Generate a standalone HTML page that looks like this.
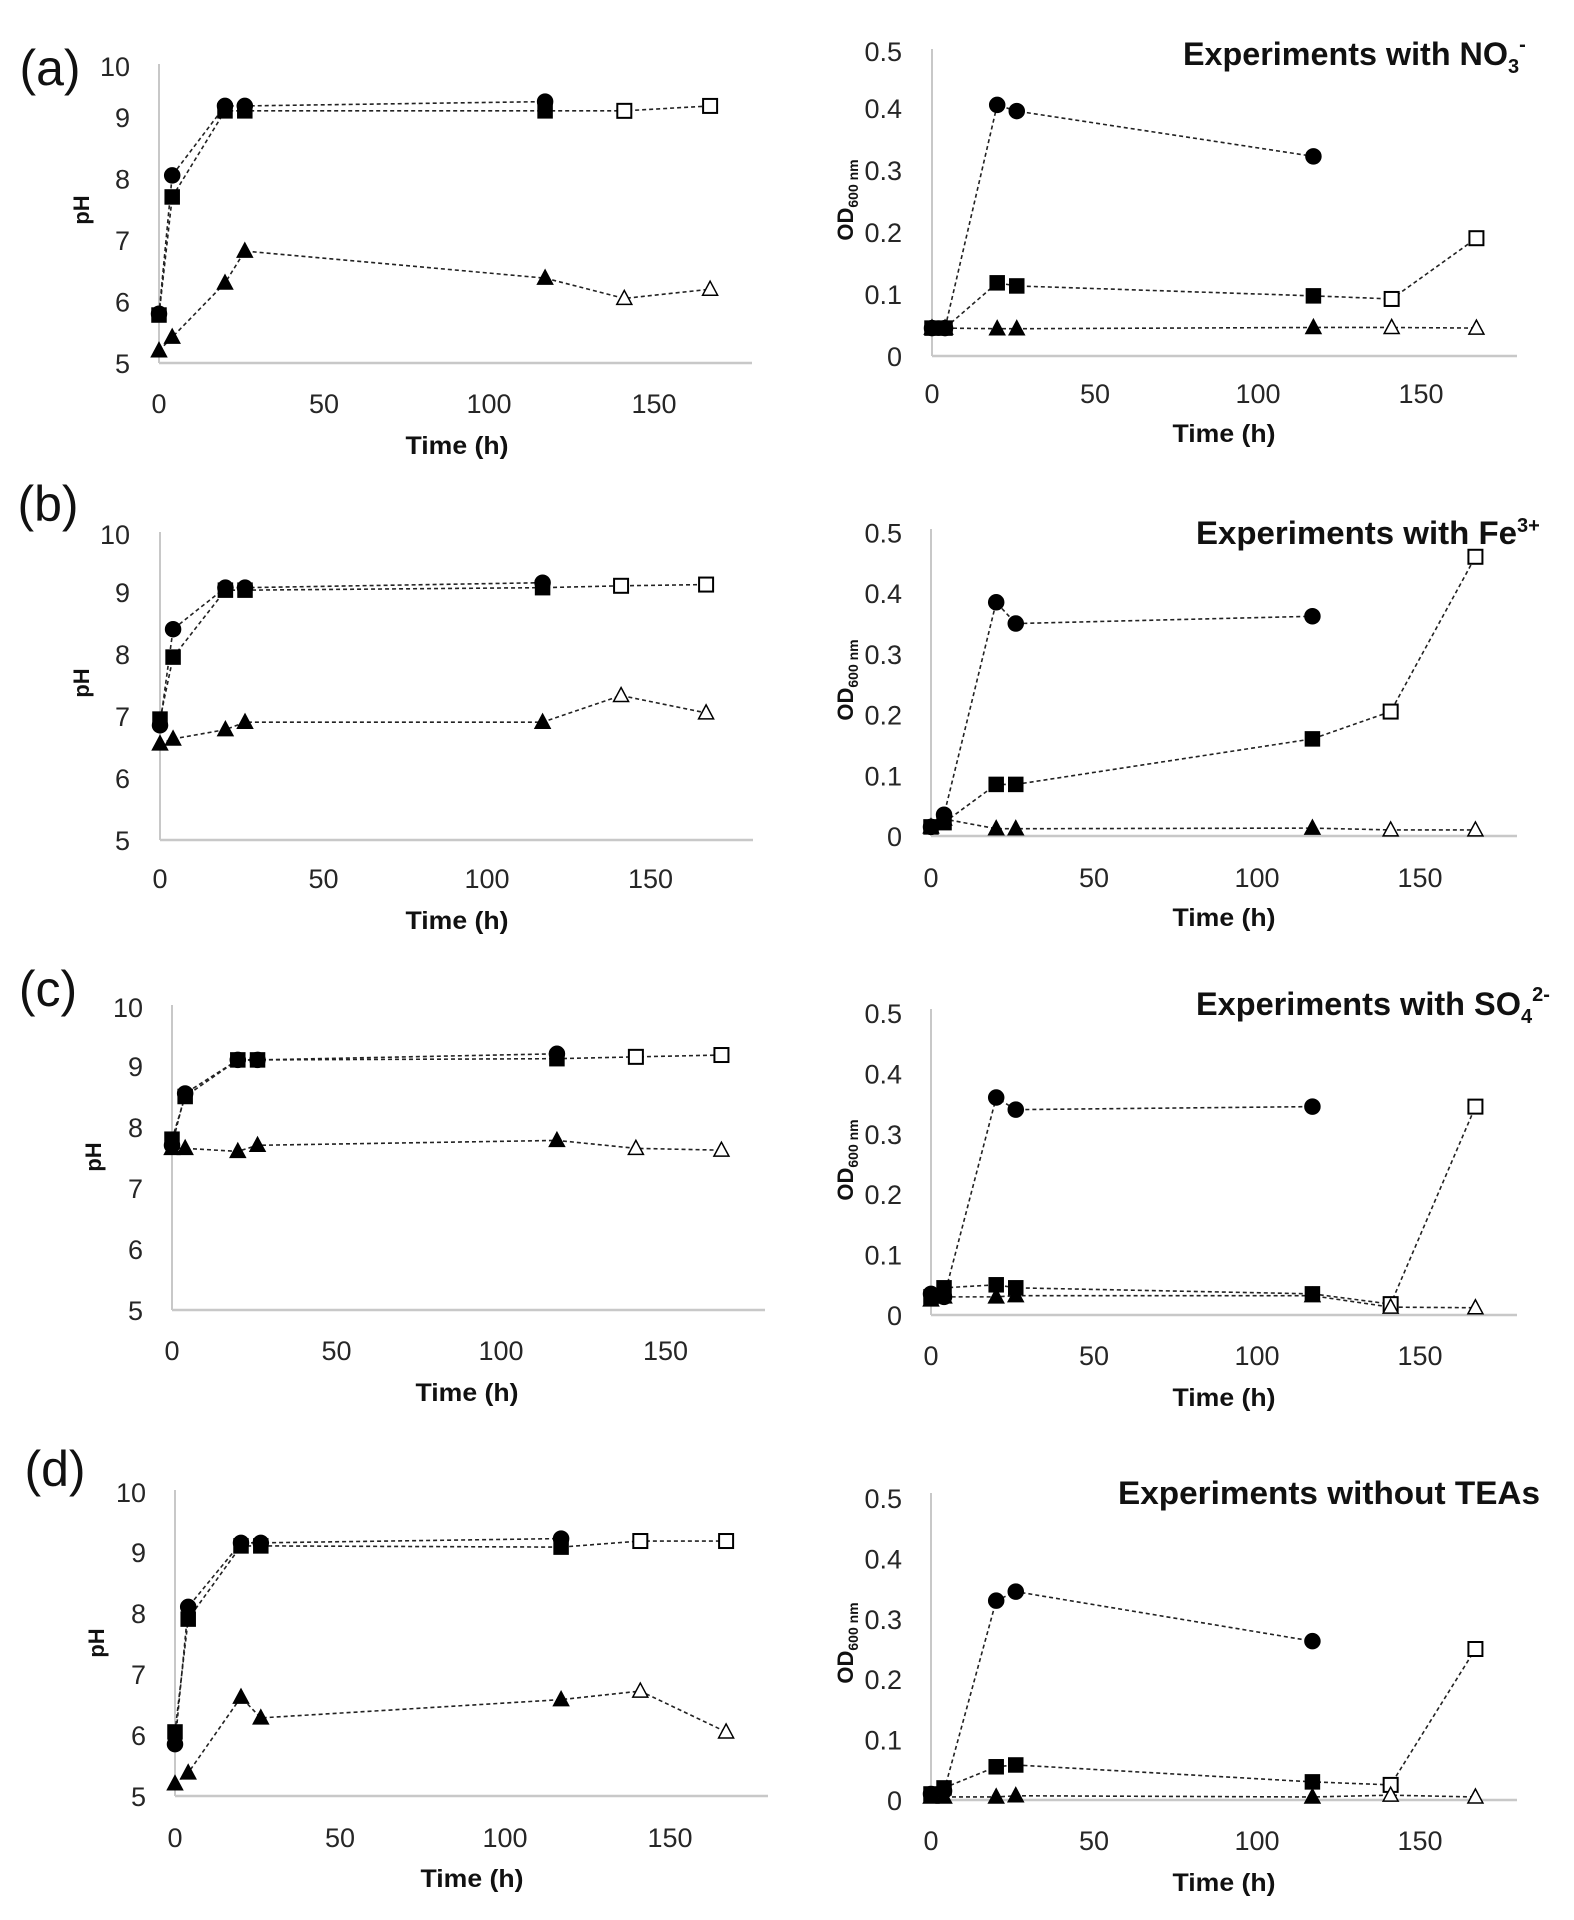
<!DOCTYPE html>
<html><head><meta charset="utf-8">
<style>
html,body{margin:0;padding:0;background:#fff;}
svg{display:block;font-family:"Liberation Sans",sans-serif;}
</style></head>
<body>
<svg id="fig" width="1574" height="1920" viewBox="0 0 1574 1920" xmlns="http://www.w3.org/2000/svg"></svg>
<script>
// ---- data ----
const times = [0, 4, 20, 26, 117, 141, 167];
const xTicks = [0, 50, 100, 150];
const phTicks = [5, 6, 7, 8, 9, 10];
const odTicks = [0, 0.1, 0.2, 0.3, 0.4, 0.5];
const odTickLabels = ["0", "0.1", "0.2", "0.3", "0.4", "0.5"];
const panelLetters = ["(a)", "(b)", "(c)", "(d)"];
const panelTitles = ["Experiments with NO", "Experiments with Fe", "Experiments with SO", "Experiments without TEAs"];

const phCircleA = [5.8, 8.05, 9.18, 9.18, 9.25];
const phSquareA = [5.78, 7.7, 9.1, 9.1, 9.1, 9.1, 9.18];
const phTriA = [5.2, 5.42, 6.3, 6.82, 6.38, 6.05, 6.2];
const odCircleA = [0.045, 0.045, 0.405, 0.395, 0.322];
const odSquareA = [0.045, 0.045, 0.118, 0.113, 0.097, 0.092, 0.19];
const odTriA = [0.045, 0.045, 0.044, 0.044, 0.046, 0.046, 0.045];

const phCircleB = [6.85, 8.4, 9.07, 9.07, 9.15];
const phSquareB = [6.95, 7.95, 9.03, 9.03, 9.07, 9.1, 9.12];
const phTriB = [6.55, 6.63, 6.78, 6.9, 6.9, 7.33, 7.05];
const odCircleB = [0.015, 0.035, 0.385, 0.35, 0.362];
const odSquareB = [0.015, 0.022, 0.085, 0.085, 0.16, 0.205, 0.46];
const odTriB = [0.015, 0.028, 0.012, 0.012, 0.013, 0.01, 0.01];

const phCircleC = [7.7, 8.55, 9.1, 9.1, 9.2];
const phSquareC = [7.8, 8.5, 9.1, 9.1, 9.12, 9.15, 9.18];
const phTriC = [7.65, 7.65, 7.6, 7.7, 7.78, 7.65, 7.62];
const odCircleC = [0.035, 0.03, 0.36, 0.34, 0.345];
const odSquareC = [0.03, 0.045, 0.05, 0.045, 0.035, 0.018, 0.345];
const odTriC = [0.025, 0.03, 0.03, 0.032, 0.032, 0.013, 0.012];

const phCircleD = [5.85, 8.1, 9.15, 9.15, 9.22];
const phSquareD = [6.05, 7.9, 9.1, 9.1, 9.08, 9.18, 9.18];
const phTriD = [5.2, 5.38, 6.62, 6.28, 6.58, 6.72, 6.05];
const odCircleD = [0.01, 0.015, 0.33, 0.345, 0.263];
const odSquareD = [0.01, 0.02, 0.055, 0.058, 0.03, 0.025, 0.25];
const odTriD = [0.005, 0.005, 0.005, 0.007, 0.005, 0.008, 0.005];

const phSets = [[phCircleA, phSquareA, phTriA], [phCircleB, phSquareB, phTriB], [phCircleC, phSquareC, phTriC], [phCircleD, phSquareD, phTriD]];
const odSets = [[odCircleA, odSquareA, odTriA], [odCircleB, odSquareB, odTriB], [odCircleC, odSquareC, odTriC], [odCircleD, odSquareD, odTriD]];

// ---- layout (pixel geometry) ----
const phLayout = [
  {x0:159, pxh:3.3, yb:363, unit:61.5, top:64, right:752, xl:403, tt:445, tx:457, yl:81, yly:210, tl:130, lx:50, ly:67},
  {x0:160, pxh:3.27, yb:840, unit:62, top:532, right:753, xl:878, tt:920, tx:457, yl:81, yly:683, tl:130, lx:48, ly:503},
  {x0:172, pxh:3.29, yb:1310, unit:61, top:1005, right:765, xl:1350, tt:1392, tx:467, yl:93, yly:1157, tl:143, lx:48, ly:988},
  {x0:175, pxh:3.3, yb:1796, unit:61, top:1490, right:768, xl:1837, tt:1878, tx:472, yl:96, yly:1643, tl:146, lx:55, ly:1468}
];
const odLayout = [
  {x0:932, pxh:3.26, yb:356, unit:620, top:49, right:1517, xl:393, tt:433, tx:1224, yl:845, yly:200, tl:902, ty:53, tr:1534, tw:351},
  {x0:931, pxh:3.26, yb:836, unit:607, top:529, right:1517, xl:877, tt:917, tx:1224, yl:845, yly:680, tl:902, ty:532, tr:1545, tw:349},
  {x0:931, pxh:3.26, yb:1315, unit:604, top:1009, right:1517, xl:1355, tt:1397, tx:1224, yl:845, yly:1160, tl:902, ty:1003, tr:1547, tw:351},
  {x0:931, pxh:3.26, yb:1800, unit:604, top:1493, right:1517, xl:1840, tt:1882, tx:1224, yl:845, yly:1643, tl:902, ty:1492, tr:1540, tw:422}
];

const NS = "http://www.w3.org/2000/svg";
const svg = document.getElementById("fig");
function mk(tag, attrs, parent) {
  const e = document.createElementNS(NS, tag);
  for (const k in attrs) e.setAttribute(k, attrs[k]);
  (parent || svg).appendChild(e);
  return e;
}

function drawMarker(g, kind, x, y, open) {
  const fill = open ? "#fff" : "#000";
  let m;
  if (kind === 0) {
    m = mk("circle", {cx:x, cy:y, r:7.5, fill:fill, stroke:"#000", "stroke-width":1.5}, g);
  } else if (kind === 1) {
    m = mk("rect", {x:x-7, y:y-7, width:14, height:14, fill:fill, stroke:"#000", "stroke-width":open ? 2 : 1.5}, g);
  } else {
    m = mk("polygon", {points:(x)+","+(y-8)+" "+(x+7.5)+","+(y+6)+" "+(x-7.5)+","+(y+6), fill:fill, stroke:"#000", "stroke-width":1.5}, g);
  }
  
  
}

function drawPanel(L, sets, isPH, idx) {
  const g = mk("g", {});
  
  
  const min = isPH ? 5 : 0;
  const X = t => L.x0 + t * L.pxh;
  const Y = v => L.yb - (v - min) * L.unit;
  const ya = mk("line", {x1:L.x0, y1:L.top, x2:L.x0, y2:L.yb, stroke:"#c8c8c8", "stroke-width":2}, g);
  
  
  const xa = mk("line", {x1:L.x0, y1:L.yb, x2:L.right, y2:L.yb, stroke:"#c8c8c8", "stroke-width":2.5}, g);
  
  
  const ticks = isPH ? phTicks : odTicks;
  ticks.forEach((v, i) => {
    let y = Y(v);
    if (i === ticks.length - 1) y = Math.max(y, L.top + 2);
    const t = mk("text", {x:L.tl, y:y + 10, "text-anchor":"end", "font-size":27, fill:"#262626"}, g);
    t.textContent = isPH ? String(v) : odTickLabels[i];
    
    
  });
  xTicks.forEach(v => {
    const t = mk("text", {x:X(v), y:L.xl + 10, "text-anchor":"middle", "font-size":27, fill:"#262626"}, g);
    t.textContent = String(v);
    
    
  });
  const xt = mk("text", {x:L.tx, y:L.tt + 9, "text-anchor":"middle", "font-size":25, "font-weight":"bold", fill:"#111", textLength:103, lengthAdjust:"spacingAndGlyphs"}, g);
  xt.textContent = "Time (h)";
  
  
  const yt = mk("text", {x:0, y:0, "text-anchor":"middle", "font-size":22, "font-weight":"bold", fill:"#111", transform:"translate(" + (L.yl + 8) + "," + L.yly + ") rotate(-90)"}, g);
  if (isPH) { yt.textContent = "pH"; }
  else {
    const a = mk("tspan", {}, yt); a.textContent = "OD";
    const b = mk("tspan", {"font-size":14, dy:5}, yt); b.textContent = "600 nm";
  }
  
  
  sets.forEach((vals, k) => {
    const pts = vals.map((v, i) => X(times[i]) + "," + Y(v)).join(" ");
    const ln = mk("polyline", {points:pts, fill:"none", stroke:"#222", "stroke-width":1.6, "stroke-dasharray":"4 3"}, g);
    
    
  });
  sets.forEach((vals, k) => {
    vals.forEach((v, i) => drawMarker(g, k, X(times[i]), Y(v), i >= 5));
  });
}

for (let i = 0; i < 4; i++) {
  drawPanel(phLayout[i], phSets[i], true, i);
  drawPanel(odLayout[i], odSets[i], false, i);
  const L = phLayout[i];
  const lt = mk("text", {x:L.lx, y:L.ly + 18, "text-anchor":"middle", "font-size":50, fill:"#111"});
  lt.textContent = panelLetters[i];
  
  
  const O = odLayout[i];
  const hasSup = i < 3;
  const tt = mk("text", {x:O.tr - (hasSup ? (i === 1 ? 28 : 26) : 0), y:O.ty + 12, "text-anchor":"end", "font-size":32, "font-weight":"bold", fill:"#111", textLength:O.tw - (hasSup ? (i === 1 ? 28 : 26) : 0), lengthAdjust:"spacingAndGlyphs"});
  tt.textContent = panelTitles[i];
  
  
  if (hasSup) {
    const st = mk("text", {x:O.tr - (i === 1 ? 28 : 26), y:O.ty + 12, "font-size":20, "font-weight":"bold", fill:"#111"});
    if (i === 0) { const a = mk("tspan", {dy:8}, st); a.textContent = "3"; const b = mk("tspan", {dy:-22}, st); b.textContent = "-"; }
    if (i === 1) { const a = mk("tspan", {dy:-12}, st); a.textContent = "3+"; }
    if (i === 2) { const a = mk("tspan", {dy:8}, st); a.textContent = "4"; const b = mk("tspan", {dy:-22}, st); b.textContent = "2-"; }
    
    
  }
}
</script>
</body></html>
